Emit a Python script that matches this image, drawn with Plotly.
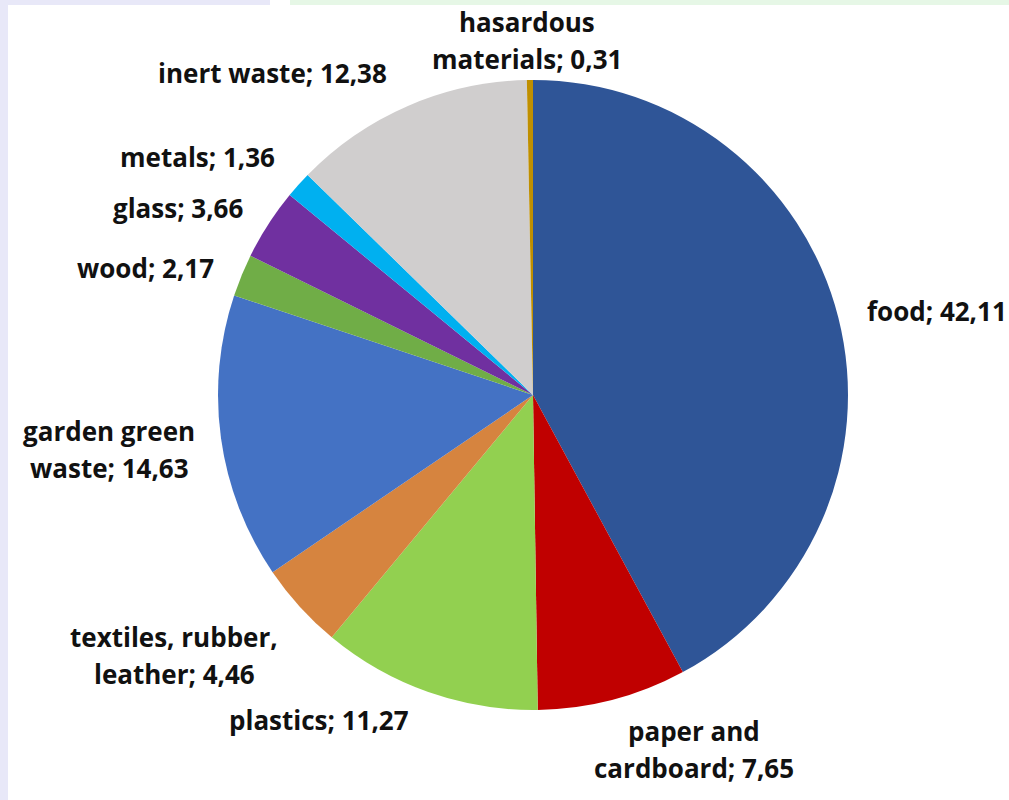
import plotly.graph_objects as go

# ---- data ----
categories = ["food", "paper and\ncardboard", "plastics", "textiles, rubber,\nleather",
              "garden green\nwaste", "wood", "glass", "metals", "inert waste",
              "hasardous\nmaterials"]
values = [42.11, 7.65, 11.27, 4.46, 14.63, 2.17, 3.66, 1.36, 12.38, 0.31]

# ---- styles / layout ----
colors = ["#2F5597", "#C00000", "#92D050", "#D6843F", "#4472C4",
          "#70AD47", "#7030A0", "#00B0F0", "#D0CECE", "#BF8F00"]
W, H = 1009, 800
cx, cy, R = 533, 395, 315  # pie centre / radius in pixels
# label anchor (pixel x, pixel y of first line, xanchor)
label_pos = [
    (865, 311, "left"),
    (694, 731, "center"),
    (319, 720, "center"),
    (174, 637, "center"),
    (109, 431, "center"),
    (145, 268, "center"),
    (178, 208, "center"),
    (197, 157, "center"),
    (272, 73, "center"),
    (527, 22, "center"),
]
line_gap = 37

fig = go.Figure(go.Pie(
    labels=[c.replace("\n", " ") for c in categories],
    values=values,
    sort=False,
    direction="clockwise",
    rotation=0,
    marker=dict(colors=colors, line=dict(width=0)),
    textinfo="none",
    hoverinfo="label+value",
    showlegend=False,
    domain=dict(x=[(cx - R) / W, (cx + R) / W], y=[(H - cy - R) / H, (H - cy + R) / H]),
))

annotations = []
for cat, val, (px, py, xa) in zip(categories, values, label_pos):
    text = f"{cat}; {val:.2f}".replace(".", ",")
    for i, line in enumerate(text.split("\n")):
        annotations.append(dict(
            x=px / W, y=1 - (py + i * line_gap) / H, xref="paper", yref="paper",
            text=line, showarrow=False, xanchor=xa, yanchor="middle",
            font=dict(family="Open Sans", size=26, color="#111111", weight="bold"),
        ))

shapes = [
    dict(type="rect", xref="paper", yref="paper", x0=0, x1=270 / W, y0=1 - 5 / H, y1=1,
         fillcolor="#E8E8F8", line_width=0, layer="below"),
    dict(type="rect", xref="paper", yref="paper", x0=290 / W, x1=1, y0=1 - 5 / H, y1=1,
         fillcolor="#E6F7E6", line_width=0, layer="below"),
    dict(type="rect", xref="paper", yref="paper", x0=0, x1=8 / W, y0=0, y1=1,
         fillcolor="#E8E8F8", line_width=0, layer="below"),
]

fig.update_layout(
    width=W, height=H,
    margin=dict(l=0, r=0, t=0, b=0),
    paper_bgcolor="white", plot_bgcolor="white",
    annotations=annotations, shapes=shapes,
)

fig.write_html("out.html")
